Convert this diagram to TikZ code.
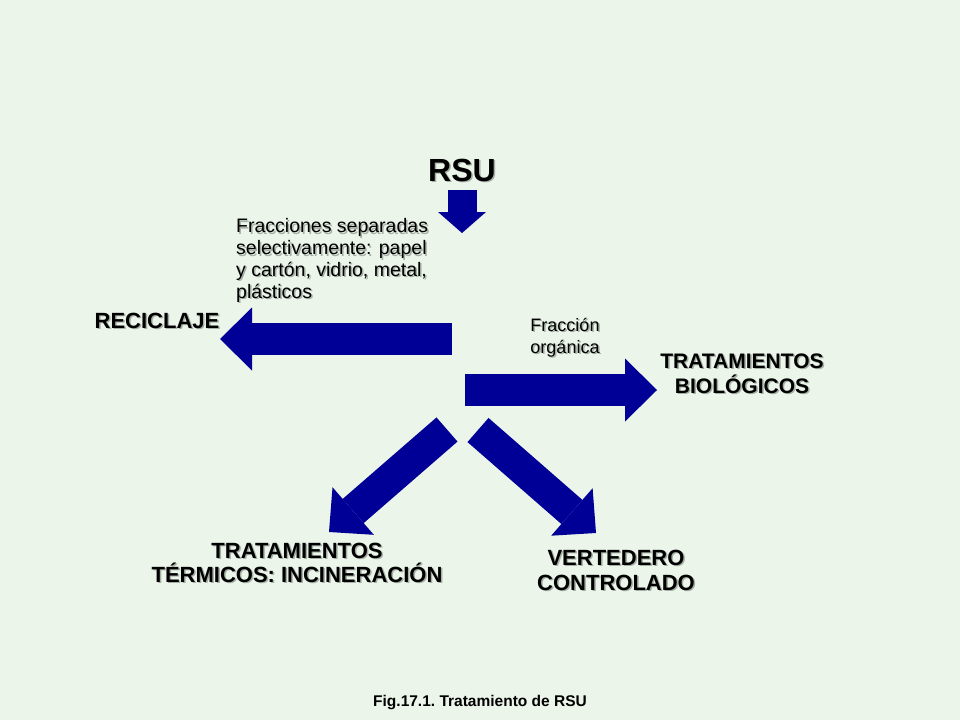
\documentclass[tikz,border=0pt]{standalone}
\usepackage{fontspec}
\setmainfont{Liberation Sans}
\usetikzlibrary{arrows.meta}
\definecolor{fondo}{RGB}{235,245,233}
\definecolor{azul}{RGB}{0,0,150}
\definecolor{sombra}{RGB}{165,175,165}
\newcommand\sombreado[1]{\leavevmode\rlap{\kern1.5pt\raisebox{-1.5pt}{\textcolor{sombra}{#1}}}#1}
\begin{document}
\begin{tikzpicture}[x=1pt,y=1pt,
  flecha/.style={azul,line width=32pt,-{Triangle[length=32pt,width=63pt,line width=0pt]}},
  titulo/.style={font=\fontsize{22}{25}\selectfont\bfseries,align=center,inner sep=0pt},
  nota/.style={font=\fontsize{19.5}{21.7}\selectfont,inner sep=0pt}]
\fill[fondo] (0,0) rectangle (960,-720);
% extremos de las flechas
\coordinate (rsuIni) at (462,-190);
\coordinate (rsuFin) at (462,-233);
\coordinate (izqIni) at (452,-339);
\coordinate (izqFin) at (220,-339);
\coordinate (derIni) at (465,-390);
\coordinate (derFin) at (657,-390);
\coordinate (diaIzqIni) at (447,-429.5);
\coordinate (diaIzqFin) at (329,-532);
\coordinate (diaDerIni) at (478,-430);
\coordinate (diaDerFin) at (596,-533);
\draw[flecha,line width=29pt,-{Triangle[length=21pt,width=48pt,line width=0pt]}] (rsuIni)--(rsuFin);
\draw[flecha] (izqIni)--(izqFin);
\draw[flecha] (derIni)--(derFin);
\draw[flecha] (diaIzqIni)--(diaIzqFin);
\draw[flecha] (diaDerIni)--(diaDerFin);
% textos (base = ultima linea)
\node[font=\fontsize{32}{40}\selectfont\bfseries,anchor=base] (rsu) at (462,-181) {\sombreado{RSU}};
\node[nota,anchor=base west,align=left] (fracciones) at (236,-298)
  {\sombreado{Fracciones separadas}\\\sombreado{selectivamente: papel}\\\sombreado{y cartón, vidrio, metal,}\\\sombreado{plásticos}};
\node[titulo,anchor=base] (reciclaje) at (157,-328) {\sombreado{RECICLAJE}};
\node[nota,font=\fontsize{18}{22}\selectfont,anchor=base,align=center] (organica) at (565,-353)
  {\sombreado{Fracción}\\\sombreado{orgánica}};
\node[titulo,font=\fontsize{21}{25}\selectfont\bfseries,anchor=base] (biologicos) at (742,-393) {\sombreado{TRATAMIENTOS}\\\sombreado{BIOLÓGICOS}};
\node[titulo,font=\fontsize{22}{24}\selectfont\bfseries,anchor=base] (termicos) at (297,-582) {\sombreado{TRATAMIENTOS}\\\sombreado{TÉRMICOS: INCINERACIÓN}};
\node[titulo,anchor=base] (vertedero) at (616,-590) {\sombreado{VERTEDERO}\\\sombreado{CONTROLADO}};
\node[font=\fontsize{15.5}{18}\selectfont\bfseries,anchor=base] (pie) at (480,-706) {Fig.17.1.\ Tratamiento de RSU};
\end{tikzpicture}
\end{document}
